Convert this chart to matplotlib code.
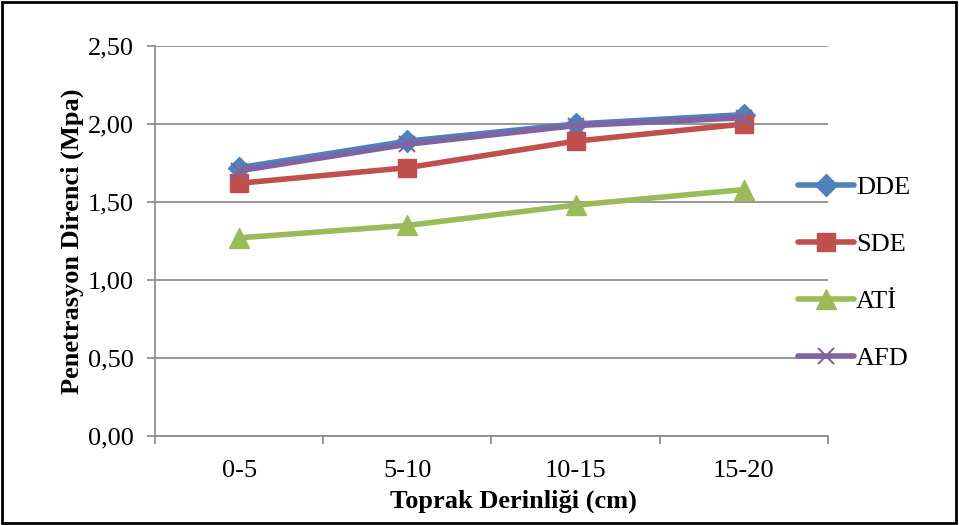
import matplotlib
matplotlib.use("Agg")
import matplotlib.pyplot as plt
from matplotlib.patches import Rectangle

categories = ["0-5", "5-10", "10-15", "15-20"]
dde = [1.72, 1.89, 2.00, 2.06]
sde = [1.62, 1.72, 1.89, 2.00]
ati = [1.27, 1.35, 1.48, 1.58]
afd = [1.70, 1.87, 1.99, 2.04]
yticks = [0.0, 0.5, 1.0, 1.5, 2.0, 2.5]
ytick_labels = ["0,00", "0,50", "1,00", "1,50", "2,00", "2,50"]

plt.rcParams['font.family'] = ['Liberation Serif', 'DejaVu Serif']

fig = plt.figure(figsize=(9.59, 5.25), dpi=100)
ax = fig.add_axes([0.1616, 0.1695, 0.8634 - 0.1616, 0.9124 - 0.1695])

x = list(range(len(categories)))
ax.plot(x, dde, color="#4F81BD", lw=4, marker="D", ms=11, label="DDE", solid_capstyle="round")
ax.plot(x, sde, color="#C0504D", lw=4, marker="s", ms=13, label="SDE", solid_capstyle="round")
ax.plot(x, ati, color="#9BBB59", lw=4, marker="^", ms=15, label="ATİ", solid_capstyle="round")
ax.plot(x, afd, color="#8064A2", lw=4, marker="x", ms=12, mew=1.5, label="AFD", solid_capstyle="round")

ax.set_xlim(-0.5, 3.5)
ax.set_ylim(0, 2.5)
ax.set_yticks(yticks)
ax.set_yticklabels(ytick_labels)
ax.set_xticks(x)
ax.set_xticklabels(categories)
ax.set_xticks([-0.5, 0.5, 1.5, 2.5, 3.5], minor=True)
ax.tick_params(axis="x", which="major", length=0, pad=17, labelsize=19)
ax.tick_params(axis="x", which="minor", length=6, color="#868686", width=1.2)
ax.tick_params(axis="y", length=6, color="#868686", width=1.2, labelsize=19, pad=9)
ax.yaxis.grid(True, color="#868686", lw=1.2)
ax.set_axisbelow(True)
for s in ["top", "right"]:
    ax.spines[s].set_visible(False)
for s in ["left", "bottom"]:
    ax.spines[s].set_color("#868686")
    ax.spines[s].set_linewidth(1.2)

ax.set_xlabel("Toprak Derinliği (cm)", fontsize=19, fontweight="bold", labelpad=6)
ax.xaxis.label.set_x(0.533)
ax.set_ylabel("Penetrasyon Direnci (Mpa)", fontsize=19, fontweight="bold", labelpad=3)

leg = ax.legend(loc="center left", bbox_to_anchor=(0.94, 0.418), frameon=False,
                fontsize=19, handlelength=2.1, labelspacing=1.27, handletextpad=0.1,
                borderaxespad=0)

fig.patches.append(Rectangle((0.002, 0.003), 0.995, 0.994, transform=fig.transFigure,
                             fill=False, edgecolor="black", lw=2))

fig.savefig("out.png", dpi=100)
